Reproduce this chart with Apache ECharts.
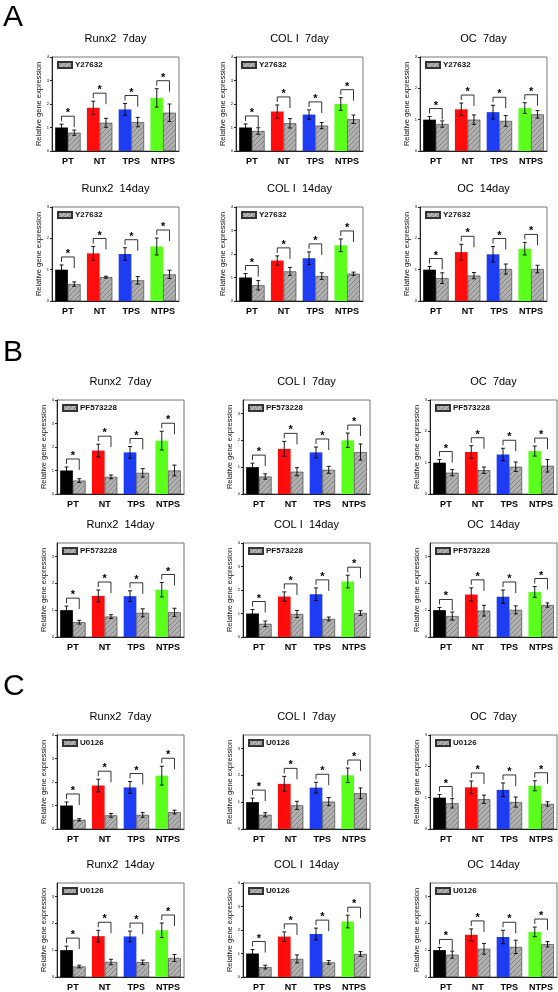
<!DOCTYPE html>
<html><head><meta charset="utf-8">
<script src="https://cdn.jsdelivr.net/npm/echarts@6/dist/echarts.min.js"></script>
<style>html,body{margin:0;padding:0;background:#fff}#c{width:558px;height:992px}</style>
</head><body><div id="c"></div>
<script>
// ---------- DATA ----------
const categories = ['PT', 'NT', 'TPS', 'NTPS'];
const chartTitles = ['Runx2  7day', 'COL I  7day', 'OC  7day', 'Runx2  14day', 'COL I  14day', 'OC  14day'];
const panelLetters = ['A', 'B', 'C'];
const inhibitors = ['Y27632', 'PF573228', 'U0126'];

// chart order: Runx2 7d, COL I 7d, OC 7d, Runx2 14d, COL I 14d, OC 14d
const yMaxA = [4, 4, 3, 3, 4, 3];
const yMaxB = [4, 3.5, 3, 3.5, 4, 3.5];
const yMaxC = [4, 3.5, 3, 3.5, 4, 3.5];

const ctrlMeanA = [[1.0,1.84,1.77,2.26],[1.0,1.68,1.55,2.0],[1.0,1.33,1.24,1.37],[1.0,1.52,1.5,1.74],[1.0,1.72,1.82,2.37],[1.0,1.56,1.49,1.67]];
const ctrlErrA  = [[0.14,0.28,0.25,0.39],[0.15,0.28,0.2,0.27],[0.1,0.2,0.22,0.17],[0.15,0.22,0.2,0.27],[0.17,0.2,0.27,0.27],[0.1,0.25,0.25,0.2]];
const inhMeanA  = [[0.78,1.2,1.23,1.63],[0.85,1.18,1.08,1.35],[0.86,1.0,0.96,1.17],[0.54,0.76,0.66,0.85],[0.67,1.26,1.06,1.16],[0.73,0.81,1.02,1.02]];
const inhErrA   = [[0.11,0.19,0.2,0.37],[0.14,0.2,0.13,0.18],[0.1,0.15,0.17,0.12],[0.07,0.03,0.12,0.13],[0.2,0.17,0.14,0.07],[0.17,0.1,0.16,0.12]];

const ctrlMeanB = [[1.0,1.85,1.77,2.27],[1.0,1.68,1.55,2.0],[1.0,1.34,1.26,1.37],[1.0,1.53,1.52,1.76],[1.0,1.72,1.82,2.36],[1.0,1.58,1.5,1.68]];
const ctrlErrB  = [[0.15,0.27,0.25,0.4],[0.15,0.28,0.2,0.27],[0.1,0.2,0.2,0.16],[0.15,0.22,0.2,0.27],[0.17,0.2,0.27,0.27],[0.1,0.25,0.25,0.2]];
const inhMeanB  = [[0.57,0.73,0.9,1.0],[0.65,0.83,0.9,1.56],[0.68,0.76,0.87,0.9],[0.55,0.76,0.9,0.92],[0.56,0.98,0.77,1.02],[0.78,0.98,1.01,1.19]];
const inhErrB   = [[0.08,0.08,0.18,0.23],[0.1,0.15,0.13,0.3],[0.1,0.1,0.15,0.2],[0.07,0.07,0.15,0.15],[0.12,0.15,0.08,0.1],[0.15,0.2,0.15,0.08]];

const ctrlMeanC = [[1.0,1.85,1.77,2.27],[1.0,1.68,1.54,2.0],[1.0,1.33,1.25,1.38],[1.0,1.52,1.51,1.74],[1.0,1.72,1.83,2.36],[1.0,1.57,1.49,1.68]];
const ctrlErrC  = [[0.15,0.27,0.25,0.4],[0.15,0.28,0.2,0.27],[0.1,0.2,0.22,0.16],[0.15,0.22,0.2,0.27],[0.17,0.2,0.25,0.27],[0.1,0.22,0.25,0.18]];
const inhMeanC  = [[0.39,0.58,0.6,0.72],[0.53,0.88,1.02,1.33],[0.82,0.95,0.86,0.8],[0.39,0.56,0.55,0.71],[0.42,0.77,0.62,0.98],[0.83,1.05,1.12,1.22]];
const inhErrC   = [[0.05,0.08,0.1,0.08],[0.08,0.15,0.15,0.2],[0.15,0.13,0.16,0.07],[0.05,0.1,0.08,0.13],[0.08,0.17,0.08,0.1],[0.13,0.2,0.25,0.1]];

// ---------- LAYOUT / STYLE ----------
const FONT = 'Liberation Sans, Arial, sans-serif';
const barColors = ['#000000', '#ff0d0d', '#1f3cf5', '#5cff1c'];
const panelData = [
  {yMax: yMaxA, cm: ctrlMeanA, ce: ctrlErrA, im: inhMeanA, ie: inhErrA, lefts: [52, 236, 420], tops: [57, 207], letterTop: 3},
  {yMax: yMaxB, cm: ctrlMeanB, ce: ctrlErrB, im: inhMeanB, ie: inhErrB, lefts: [57, 243, 430], tops: [400, 543], letterTop: 338},
  {yMax: yMaxC, cm: ctrlMeanC, ce: ctrlErrC, im: inhMeanC, ie: inhErrC, lefts: [57, 243, 430], tops: [735, 883], letterTop: 672}
];
const W = 127, H = 94;

function hatchCanvas() {
  const s = 5;
  const c = document.createElement('canvas');
  c.width = s; c.height = s;
  const g = c.getContext('2d');
  g.fillStyle = '#b0b0b0'; g.fillRect(0, 0, s, s);
  g.strokeStyle = '#858585'; g.lineWidth = 1;
  g.beginPath();
  g.moveTo(0, s); g.lineTo(s, 0);
  g.moveTo(-1, 1); g.lineTo(1, -1);
  g.moveTo(s - 1, s + 1); g.lineTo(s + 1, s - 1);
  g.stroke();
  return c;
}
const hatch = {image: hatchCanvas(), repeat: 'repeat'};

const grids = [], xAxes = [], yAxes = [], series = [], legends = [], graphics = [];

panelData.forEach((p, pi) => {
  graphics.push({type: 'text', left: 3, top: p.letterTop,
    style: {text: panelLetters[pi], font: '30px ' + FONT, fill: '#000'}});
  for (let k = 0; k < 6; k++) {
    const row = Math.floor(k / 3), col = k % 3;
    const left = p.lefts[col], top = p.tops[row];
    const gi = grids.length;
    grids.push({left: left, top: top, width: W, height: H, show: true, borderColor: '#777', borderWidth: 1, containLabel: false});
    xAxes.push({type: 'category', gridIndex: gi, data: categories,
      axisLine: {lineStyle: {color: '#222', width: 1}}, axisTick: {show: false},
      axisLabel: {fontFamily: FONT, fontSize: 9, fontWeight: 'bold', color: '#000', margin: 6, interval: 0}});
    const ymax = p.yMax[k];
    const ints = [];
    for (let v = 0; v <= ymax + 1e-9; v += 1) ints.push(v);
    yAxes.push({type: 'value', gridIndex: gi, min: 0, max: ymax, interval: 1,
      splitLine: {show: false},
      axisLine: {show: true, lineStyle: {color: '#222', width: 1}},
      axisTick: {show: true, length: 2, customValues: ints, lineStyle: {color: '#222'}},
      axisLabel: {fontFamily: FONT, fontSize: 4, color: '#000', margin: 3, customValues: ints},
      name: 'Relative gene expression', nameLocation: 'middle', nameGap: 9,
      nameTextStyle: {fontFamily: FONT, fontSize: 7.5, color: '#111'}});
    const cm = p.cm[k], ce = p.ce[k], im = p.im[k], ie = p.ie[k];
    series.push({type: 'bar', name: 'ctrl', xAxisIndex: gi, yAxisIndex: gi, barWidth: '40%', barGap: '0%',
      data: cm.map((v, i) => ({value: v, itemStyle: {color: barColors[i]}})), silent: true});
    series.push({type: 'bar', name: inhibitors[pi], xAxisIndex: gi, yAxisIndex: gi, barWidth: '40%', barGap: '0%',
      itemStyle: {color: hatch, borderColor: '#333', borderWidth: 0.6},
      data: im, silent: true});
    series.push({type: 'custom', xAxisIndex: gi, yAxisIndex: gi, silent: true, z: 5,
      encode: {x: 0, y: 1},
      data: categories.map((c, i) => [i, cm[i], ce[i], im[i], ie[i]]),
      renderItem: function (params, api) {
        const i = api.value(0);
        const cmv = api.value(1), cev = api.value(2), imv = api.value(3), iev = api.value(4);
        const x = api.coord([i, 0])[0];
        const cw = api.size([1, 0])[0];
        const bw = cw * 0.4;
        const xc = x - bw / 2, xi = x + bw / 2;
        const st = {stroke: '#000', lineWidth: 0.9};
        const ch = [];
        function eb(xx, m, e) {
          const y1 = api.coord([i, m - e])[1], y2 = api.coord([i, m + e])[1];
          ch.push({type: 'line', shape: {x1: xx, y1: y1, x2: xx, y2: y2}, style: st});
          ch.push({type: 'line', shape: {x1: xx - 2, y1: y1, x2: xx + 2, y2: y1}, style: st});
          ch.push({type: 'line', shape: {x1: xx - 2, y1: y2, x2: xx + 2, y2: y2}, style: st});
        }
        eb(xc, cmv, cev);
        eb(xi, imv, iev);
        const yt = api.coord([i, cmv + cev])[1] - 8;
        ch.push({type: 'polyline', shape: {points: [[xc, yt + 5], [xc, yt], [xi, yt], [xi, yt + 11]]},
          style: {stroke: '#000', fill: null, lineWidth: 0.8}});
        ch.push({type: 'text', x: x, y: yt - 3,
          style: {text: '*', align: 'center', verticalAlign: 'middle', font: 'bold 11px ' + FONT, fill: '#000'}});
        return {type: 'group', children: ch};
      }});
    legends.push({left: left + 5, top: top + 4, data: [inhibitors[pi]], itemWidth: 14, itemHeight: 6, padding: 0,
      selectedMode: false, icon: 'rect', itemGap: 2,
      textStyle: {fontFamily: FONT, fontSize: 8, fontWeight: 'bold', color: '#111', padding: [0, 0, 0, -2]}});
    graphics.push({type: 'text', x: left + W / 2, y: top - 18,
      style: {text: chartTitles[k], font: '11px ' + FONT, fill: '#000', align: 'center', verticalAlign: 'middle'}});
  }
});

const chart = echarts.init(document.getElementById('c'), null, {renderer: 'canvas'});
chart.setOption({
  animation: false,
  backgroundColor: '#fff',
  grid: grids, xAxis: xAxes, yAxis: yAxes, series: series, legend: legends, graphic: graphics
});
</script></body></html>
